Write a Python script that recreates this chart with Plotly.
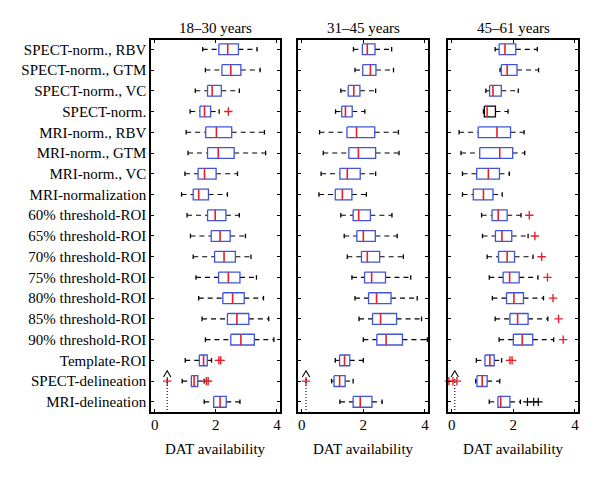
import plotly.graph_objects as go

# ---------------- data ----------------
categories = [
    "SPECT-norm., RBV", "SPECT-norm., GTM", "SPECT-norm., VC", "SPECT-norm.",
    "MRI-norm., RBV", "MRI-norm., GTM", "MRI-norm., VC", "MRI-normalization",
    "60% threshold-ROI", "65% threshold-ROI", "70% threshold-ROI", "75% threshold-ROI",
    "80% threshold-ROI", "85% threshold-ROI", "90% threshold-ROI",
    "Template-ROI", "SPECT-delineation", "MRI-delineation",
]
panel_titles = ["18\u201330 years", "31\u201345 years", "45\u201361 years"]
x_title = "DAT availability"
x_ticks = [0, 2, 4]

# panel 1: 18-30 years
p1_low = [1.57, 1.66, 1.33, 1.16, 1.03, 1.09, 0.99, 0.88, 1.06, 1.17, 1.26, 1.35, 1.44, 1.55, 1.66, 1.00, 0.90, 1.62]
p1_q1 = [2.10, 2.20, 1.73, 1.48, 1.67, 1.73, 1.42, 1.26, 1.73, 1.85, 1.96, 2.09, 2.23, 2.38, 2.49, 1.46, 1.20, 1.93]
p1_med = [2.39, 2.49, 1.88, 1.63, 2.02, 2.08, 1.63, 1.44, 1.98, 2.14, 2.27, 2.41, 2.55, 2.69, 2.82, 1.60, 1.29, 2.14]
p1_q3 = [2.74, 2.82, 2.18, 1.83, 2.52, 2.60, 2.01, 1.76, 2.33, 2.47, 2.64, 2.79, 2.93, 3.08, 3.26, 1.72, 1.41, 2.34]
p1_high = [3.35, 3.45, 2.77, 2.11, 3.59, 3.63, 2.71, 2.38, 2.77, 2.97, 3.15, 3.33, 3.56, 3.73, 3.90, 1.86, 1.62, 2.79]
p1_outliers = [[], [], [], [2.41], [], [], [], [], [], [], [], [], [], [], [], [2.10, 2.16], [0.41, 1.69, 1.75], []]
p1_black_outliers = [[] for _ in range(18)]

# panel 2: 31-45 years
p2_low = [1.68, 1.73, 1.27, 1.10, 0.58, 0.70, 0.63, 0.56, 1.27, 1.38, 1.48, 1.63, 1.73, 1.86, 2.00, 1.09, 0.97, 1.24]
p2_q1 = [1.97, 1.98, 1.51, 1.30, 1.47, 1.53, 1.24, 1.09, 1.67, 1.79, 1.94, 2.04, 2.17, 2.30, 2.44, 1.23, 1.05, 1.67]
p2_med = [2.13, 2.23, 1.69, 1.42, 1.78, 1.84, 1.48, 1.32, 1.85, 2.00, 2.13, 2.27, 2.43, 2.56, 2.74, 1.39, 1.23, 1.90]
p2_q3 = [2.38, 2.41, 1.89, 1.64, 2.37, 2.40, 1.90, 1.63, 2.23, 2.39, 2.53, 2.72, 2.90, 3.08, 3.27, 1.56, 1.41, 2.28]
p2_high = [2.92, 2.98, 2.40, 2.05, 3.14, 3.16, 2.40, 2.10, 2.93, 3.10, 3.30, 3.54, 3.75, 3.89, 4.08, 2.00, 1.67, 2.61]
p2_outliers = [[], [], [], [], [], [], [], [], [], [], [], [], [], [], [], [], [0.14], []]
p2_black_outliers = [[] for _ in range(18)]

# panel 3: 45-61 years
p3_low = [1.41, 1.57, 1.11, 1.03, 0.24, 0.30, 0.35, 0.35, 0.97, 1.00, 1.15, 1.22, 1.32, 1.41, 1.54, 0.80, 0.78, 1.22]
p3_q1 = [1.54, 1.61, 1.23, 1.06, 0.86, 0.91, 0.81, 0.70, 1.31, 1.42, 1.52, 1.67, 1.78, 1.89, 2.00, 1.08, 0.82, 1.50]
p3_med = [1.73, 1.80, 1.34, 1.15, 1.47, 1.56, 1.19, 1.03, 1.51, 1.63, 1.80, 1.88, 2.02, 2.14, 2.29, 1.24, 0.99, 1.59]
p3_q3 = [2.08, 2.12, 1.61, 1.42, 1.91, 1.98, 1.55, 1.34, 1.80, 1.95, 2.04, 2.19, 2.33, 2.48, 2.63, 1.38, 1.15, 1.89]
p3_high = [2.78, 2.82, 2.16, 1.83, 2.35, 2.37, 1.87, 1.64, 2.25, 2.48, 2.64, 2.80, 2.98, 3.12, 3.31, 1.62, 1.56, 2.23]
p3_outliers = [[], [], [], [], [], [], [], [], [2.52], [2.70], [2.92], [3.11], [3.29], [3.47], [3.62], [1.89, 1.96], [-0.09, 0.04, 0.17], []]
p3_black_outliers = [[] for _ in range(17)] + [[2.46, 2.66, 2.81]]

# off-scale indicator (caret + dotted line) x position per panel
arrow_x = [0.41, 0.14, 0.10]

panels = [
    (p1_low, p1_q1, p1_med, p1_q3, p1_high, p1_outliers, p1_black_outliers),
    (p2_low, p2_q1, p2_med, p2_q3, p2_high, p2_outliers, p2_black_outliers),
    (p3_low, p3_q1, p3_med, p3_q3, p3_high, p3_outliers, p3_black_outliers),
]

# ---------------- styling ----------------
OFF = 8                       # page body margin
W, H = 600 - 2 * OFF, 478 - 2 * OFF
BLUE = "#3f55d9"
RED = "#e8202a"
FONT = "Liberation Serif"
FS = 15
black_box = {(2, 3)}  # panel 3, "SPECT-norm." drawn with black box
HB = 0.26   # box half-height (category units)
HC = 0.11   # whisker cap half-height

px_dom = [(151, 280), (298, 428), (448, 578)]   # page pixels
top_px, bot_px = 40, 412


def fx(px):
    return (px - OFF) / W


def fy(py):
    return 1 - (py - OFF) / H


y_dom = [fy(bot_px), fy(top_px)]

fig = go.Figure()

for p, (lo, q1, md, q3, hi, outs, bouts) in enumerate(panels):
    xa = "x" if p == 0 else f"x{p + 1}"
    ya = "y" if p == 0 else f"y{p + 1}"
    n = len(categories)
    wx, wy, cx, cy, mx, my = [], [], [], [], [], []
    boxes = {"blue": ([], []), "black": ([], [])}
    ox, oy, bx, by = [], [], [], []
    for i in range(n):
        wx += [lo[i], q1[i], None, q3[i], hi[i], None]
        wy += [i, i, None, i, i, None]
        cx += [lo[i], lo[i], None, hi[i], hi[i], None]
        cy += [i - HC, i + HC, None, i - HC, i + HC, None]
        key = "black" if (p, i) in black_box else "blue"
        bxs, bys = boxes[key]
        bxs += [q1[i], q3[i], q3[i], q1[i], q1[i], None]
        bys += [i - HB, i - HB, i + HB, i + HB, i - HB, None]
        mx += [md[i], md[i], None]
        my += [i - HB, i + HB, None]
        for v in outs[i]:
            ox.append(v); oy.append(i)
        for v in bouts[i]:
            bx.append(v); by.append(i)
    fig.add_trace(go.Scatter(x=wx, y=wy, mode="lines", xaxis=xa, yaxis=ya,
                             line=dict(color="black", width=1.1, dash="5px,4px"), hoverinfo="skip"))
    fig.add_trace(go.Scatter(x=cx, y=cy, mode="lines", xaxis=xa, yaxis=ya,
                             line=dict(color="black", width=1.3), hoverinfo="skip"))
    for key, col in (("blue", BLUE), ("black", "black")):
        bxs, bys = boxes[key]
        if bxs:
            fig.add_trace(go.Scatter(x=bxs, y=bys, mode="lines", xaxis=xa, yaxis=ya,
                                     line=dict(color=col, width=1.3), hoverinfo="skip"))
    fig.add_trace(go.Scatter(x=mx, y=my, mode="lines", xaxis=xa, yaxis=ya,
                             line=dict(color=RED, width=1.6), hoverinfo="skip"))
    if ox:
        fig.add_trace(go.Scatter(x=ox, y=oy, mode="markers", xaxis=xa, yaxis=ya, cliponaxis=False,
                                 marker=dict(symbol="cross-thin", size=6, line=dict(color=RED, width=1.4)),
                                 hoverinfo="skip"))
    if bx:
        fig.add_trace(go.Scatter(x=bx, y=by, mode="markers", xaxis=xa, yaxis=ya, cliponaxis=False,
                                 marker=dict(symbol="cross-thin", size=6, line=dict(color="black", width=1.2)),
                                 hoverinfo="skip"))
    a = arrow_x[p]
    fig.add_trace(go.Scatter(x=[a - 0.12, a, a + 0.12], y=[15.8, 15.5, 15.8], mode="lines",
                             xaxis=xa, yaxis=ya, line=dict(color="black", width=1.1), hoverinfo="skip"))
    fig.add_trace(go.Scatter(x=[a, a], y=[15.9, 17.45], mode="lines", xaxis=xa, yaxis=ya,
                             line=dict(color="black", width=1.1, dash="1px,2px"), hoverinfo="skip"))

axis_common = dict(showline=True, linecolor="black", linewidth=1.5, mirror="ticks",
                   ticks="inside", ticklen=3, tickcolor="black", tickwidth=1,
                   showgrid=False, zeroline=False,
                   tickfont=dict(family=FONT, size=FS, color="black"))

layout = dict(width=W, height=H, margin=dict(l=0, r=0, t=0, b=0),
              paper_bgcolor="white", plot_bgcolor="white", showlegend=False,
              font=dict(family=FONT, size=FS, color="black"))

annotations = []
for p in range(3):
    sfx = "" if p == 0 else str(p + 1)
    x0, x1 = px_dom[p]
    layout["xaxis" + sfx] = dict(axis_common, domain=[fx(x0), fx(x1)], range=[-0.12, 4.1],
                                 tickvals=x_ticks, ticktext=[str(t) for t in x_ticks],
                                 ticklabelstandoff=-2, anchor="y" + sfx)
    layout["yaxis" + sfx] = dict(axis_common, domain=y_dom, range=[17.49, -0.45],
                                 tickvals=list(range(len(categories))),
                                 ticktext=categories if p == 0 else [""] * len(categories),
                                 showticklabels=(p == 0), ticklabelstandoff=0,
                                 anchor="x" + sfx)
    cxp = fx((x0 + x1) / 2)
    annotations.append(dict(text=panel_titles[p], x=cxp, y=fy(28), xref="paper", yref="paper",
                            xanchor="center", yanchor="middle", showarrow=False,
                            font=dict(family=FONT, size=FS, color="black")))
    annotations.append(dict(text=x_title, x=cxp, y=fy(449), xref="paper", yref="paper",
                            xanchor="center", yanchor="middle", showarrow=False,
                            font=dict(family=FONT, size=FS, color="black")))
layout["annotations"] = annotations
fig.update_layout(**layout)

fig.write_html("out.html")
